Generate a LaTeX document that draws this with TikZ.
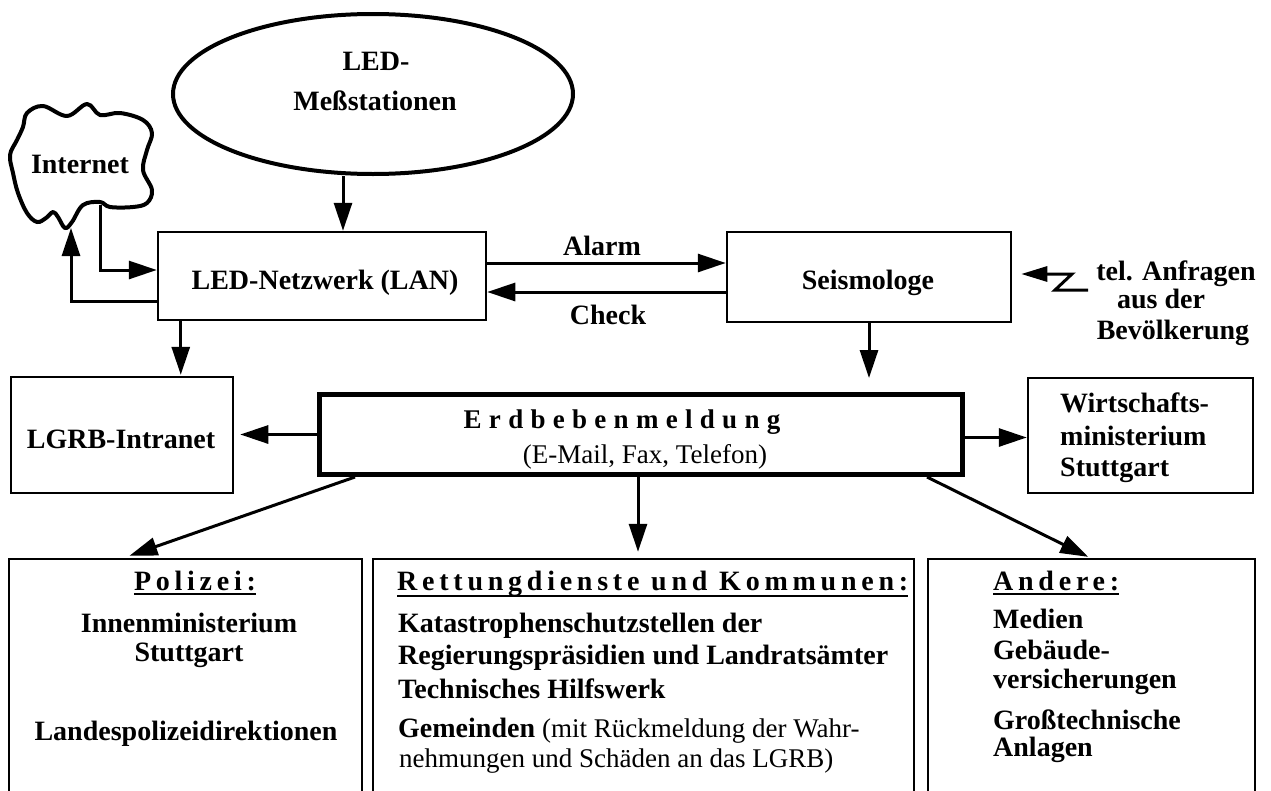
\documentclass[tikz,border=0pt]{standalone}
\usepackage{fontspec}
\setmainfont{Liberation Serif}
\newfontfamily\hfont[LetterSpace=17]{Liberation Serif}
\newfontfamily\efont[LetterSpace=27]{Liberation Serif}
\usetikzlibrary{arrows.meta,shapes.geometric}
\begin{document}
\begin{tikzpicture}[x=1pt,y=-1pt,
  box/.style={draw, line width=2.5pt, inner sep=0pt},
  lbl/.style={font=\fontsize{28}{30}\selectfont\bfseries, inner sep=0pt, anchor=base},
  lblw/.style={lbl, anchor=base west},
  reg/.style={font=\fontsize{27}{30}\selectfont, inner sep=0pt, anchor=base},
  head/.style={font=\fontsize{28}{30}\selectfont\hfont\bfseries, inner sep=0pt},
  arr/.style={line width=3pt, -{Triangle[length=28pt,width=18pt]}},
  sarr/.style={line width=3pt, -{Triangle[length=26pt,width=15pt]}},
  uline/.style={line width=2pt}
]
\useasboundingbox (0,0) rectangle (1271,790);

% ellipse
\node[draw, ellipse, line width=4pt, minimum width=400pt, minimum height=160pt, inner sep=0pt] (ell) at (373,94) {};
\node[lbl] (ellt1) at (376,70) {LED-};
\node[lbl] (ellt2) at (375,110) {Meßstationen};

% cloud
\draw[line width=4pt, line join=round] plot[smooth cycle, tension=0.6] coordinates {
 (27,113) (43,106) (67,116) (87,104) (100,115) (120,113) (143,120) (152,133)
 (147,150) (143,170) (152,190) (147,203) (133,207) (110,207) (100,202) (83,205)
 (72,222) (65,228) (58,217) (53,212) (46,218) (37,222) (27,213) (18,193)
 (13,173) (10,155) (17,140) (23,127)};
\node[lbl] (inet) at (80,173) {Internet};
\coordinate (cb1) at (100,205);
\coordinate (cb2) at (71,228);

% main boxes
\node[box, minimum width=328pt, minimum height=88pt] (led) at (322,276) {};
\node[lbl] (ledt) at (325,289) {LED-Netzwerk (LAN)};
\node[box, minimum width=284pt, minimum height=90pt] (seis) at (869,277) {};
\node[lbl] (seist) at (868,289) {Seismologe};

\node[box, minimum width=222pt, minimum height=116pt] (lgrb) at (122,435) {};
\node[lbl] (lgrbt) at (121,448) {LGRB-Intranet};

\node[box, minimum width=225pt, minimum height=115pt] (wirt) at (1140.5,435.5) {};
\node[lblw] (wirt1) at (1060,412) {Wirtschafts-};
\node[lblw] (wirt2) at (1060,445) {ministerium};
\node[lblw] (wirt3) at (1060,476) {Stuttgart};

\node[draw, line width=5pt, inner sep=0pt, minimum width=643pt, minimum height=80pt] (erd) at (641,434.5) {};
\node[font=\fontsize{27}{30}\selectfont\efont\bfseries, inner sep=0pt, anchor=base] (erdt) at (622,428) {Erdbebenmeldung};
\node[reg] (erdt2) at (645,463) {(E-Mail, Fax, Telefon)};

% bottom boxes
\node[box, minimum width=353pt, minimum height=242pt] (pol) at (185.5,680) {};
\node[box, minimum width=541pt, minimum height=242pt] (ret) at (643.5,680) {};
\node[box, minimum width=327pt, minimum height=242pt] (and) at (1091.5,680) {};

\node[head, anchor=base] (polh) at (195,590) {Polizei:};
\draw[uline] ([yshift=-4pt]polh.base west) -- ([yshift=-4pt]polh.base east);
\node[lbl] (pol1) at (189,632) {Innenministerium};
\node[lbl] (pol2) at (189,661) {Stuttgart};
\node[lbl] (pol3) at (186,740) {Landespolizeidirektionen};

\node[head, anchor=base west] (reth) at (397,590) {Rettungdienste und Kommunen:};
\draw[uline] ([yshift=-6pt]reth.base west) -- ([yshift=-6pt]reth.base east);
\node[lblw] (ret1) at (398,632) {Katastrophenschutzstellen der};
\node[lblw] (ret2) at (398,664) {Regierungspräsidien und Landratsämter};
\node[lblw] (ret3) at (398,698) {Technisches Hilfswerk};
\node[lblw] (ret4) at (398,737) {Gemeinden {\mdseries\fontsize{27}{30}\selectfont(mit Rückmeldung der Wahr-}};
\node[reg, anchor=base west] (ret5) at (399,767) {nehmungen und Schäden an das LGRB)};

\node[head, anchor=base west] (andh) at (993,590) {Andere:};
\draw[uline] ([yshift=-4pt]andh.base west) -- ([yshift=-4pt]andh.base east);
\node[lblw] (and1) at (993,628) {Medien};
\node[lblw] (and2) at (993,659) {Gebäude-};
\node[lblw] (and3) at (993,688) {versicherungen};
\node[lblw] (and4) at (993,729) {Großtechnische};
\node[lblw] (and5) at (993,756) {Anlagen};

% tel. Anfragen
\node[lbl] (tel1) at (1176,280) {tel. Anfragen};
\node[lbl] (tel2) at (1161,308) {aus der};
\node[lbl] (tel3) at (1173,339) {Bevölkerung};
\coordinate (z0) at (1088,290);
\coordinate (z1) at (1055,290);
\coordinate (z2) at (1072,274);
\coordinate (zt) at ([xshift=9pt,yshift=3pt]seis.east);
\draw[sarr] (z0) -- (z1) -- (z2) -- (zt);

% connectors
\draw[arr] ([xshift=-30pt]ell.south) -- ([xshift=-30pt]ell.south |- led.north);

\coordinate (a1) at ([yshift=13pt]led.east);
\draw[arr] (a1) -- (a1 -| seis.west);
\coordinate (c1) at ([yshift=-16pt]led.east);
\draw[arr] (c1 -| seis.west) -- (c1);
\node[lbl] (alarm) at (602,255) {Alarm};
\node[lbl] (check) at (608,324) {Check};

\coordinate (i1) at ([yshift=6pt]led.west);
\draw[arr] (cb1) |- (i1);
\coordinate (i2) at ([yshift=-25pt]led.west);
\draw[arr] (i2) -| (cb2);

\coordinate (l1) at ([xshift=24pt]led.south west);
\draw[arr, shorten >=1pt] (l1) -- (l1 |- lgrb.north);

\draw[arr, shorten >=14pt] (seis.south) -- (seis.south |- erd.north);

\draw[arr, shorten >=6pt] (erd.west) -- (erd.west -| lgrb.east);
\coordinate (e1) at ([yshift=-3pt]erd.east);
\draw[arr] (e1) -- (e1 -| wirt.west);

\draw[arr, shorten >=6pt] ([xshift=38pt]erd.south west) -- ([xshift=116pt]pol.north west);
\draw[arr, shorten >=6pt] ([xshift=-3pt]erd.south) -- ([xshift=-3pt]erd.south |- ret.north);
\draw[arr, shorten >=2pt] ([xshift=-38pt]erd.south east) -- ([xshift=-1.5pt]and.north);
\end{tikzpicture}
\end{document}
